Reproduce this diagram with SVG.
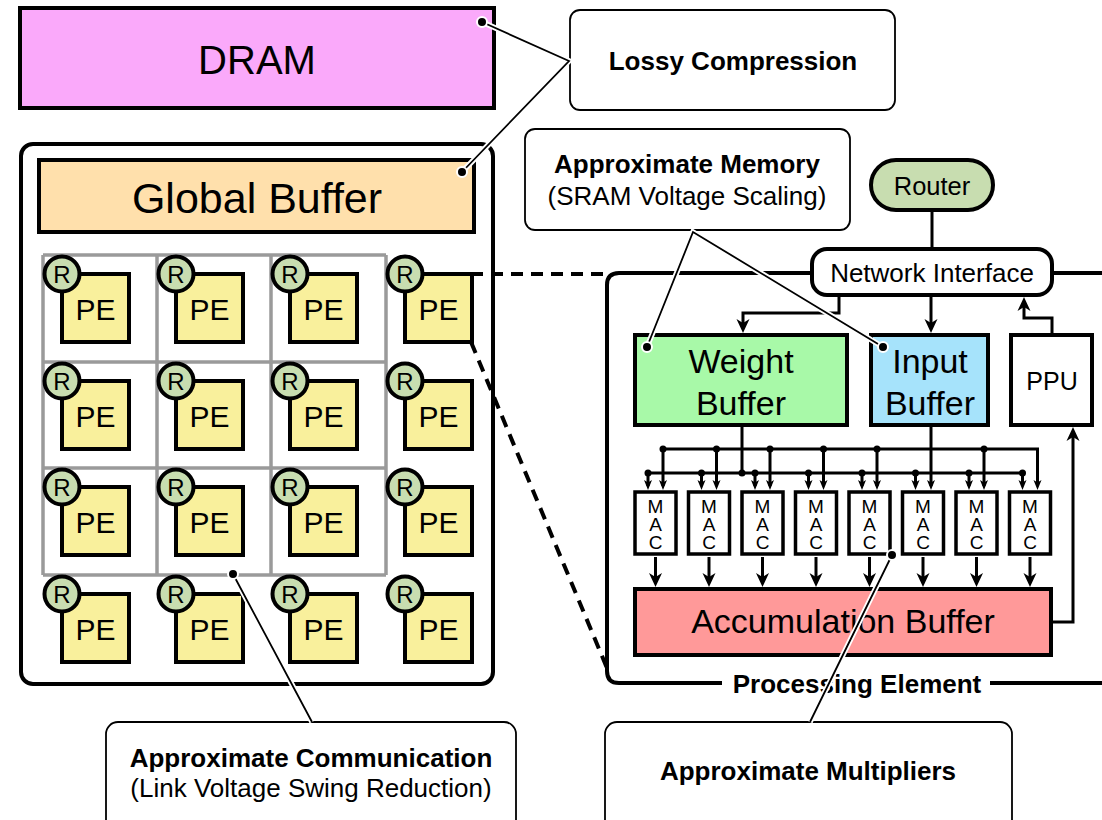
<svg xmlns="http://www.w3.org/2000/svg" width="1102" height="820" viewBox="0 0 1102 820">
<style>
 .t{font-family:"Liberation Sans",Arial,Helvetica,sans-serif;fill:#000;text-anchor:middle}
 .b{font-weight:bold}
 .v{writing-mode:vertical-rl;text-orientation:upright;letter-spacing:-3px}
 .blk{stroke:#000;stroke-width:4}
 .call{fill:#fff;stroke:#000;stroke-width:1.8}
 .grid{fill:none;stroke:#9a9a9a;stroke-width:3.5}
 .pe{fill:#f9f09c;stroke:#000;stroke-width:4}
 .r{fill:#c8ddb0;stroke:#000;stroke-width:4}
 .mac{fill:#fff;stroke:#000;stroke-width:3.5}
 .wire{fill:none;stroke:#000;stroke-width:3}
 .halo{fill:none;stroke:#fff;stroke-width:5.5}
 .lead{fill:none;stroke:#000;stroke-width:1.8}
 .dot{fill:#000;stroke:#fff;stroke-width:2}
 .jn{fill:#000}
 .dash{fill:none;stroke:#000;stroke-width:4;stroke-dasharray:12 8}
</style>
<defs>
 <marker id="arrow" markerUnits="userSpaceOnUse" orient="auto" refX="0" refY="0" markerWidth="20" markerHeight="20" overflow="visible">
  <path d="M5,0 L-9,-6.5 L-5,0 L-9,6.5 Z" fill="#000"/>
 </marker>
 <marker id="arrow-s" markerUnits="userSpaceOnUse" orient="auto" refX="0" refY="0" markerWidth="14" markerHeight="14" overflow="visible">
  <path d="M4,0 L-6,-4 L-3.5,0 L-6,4 Z" fill="#000"/>
 </marker>
</defs>

<!-- off-chip memory -->
<g id="dram">
 <rect x="20" y="8" width="474" height="100" fill="#faa9fa" class="blk"/>
 <text class="t" x="257" y="74" font-size="40">DRAM</text>
</g>

<!-- accelerator chip -->
<g id="chip">
 <rect x="21" y="144" width="472" height="540" rx="12" fill="#fff" class="blk"/>
</g>
<g id="global-buffer">
 <rect x="39" y="160" width="435" height="72" fill="#ffe0ac" class="blk"/>
 <text class="t" x="257" y="213" font-size="43">Global Buffer</text>
</g>

<!-- on-chip mesh links -->
<g id="mesh">
 <path class="grid" d="M43,255 H386 M43,362 H386 M43,468 H386 M43,575 H386 M43,255 V575 M157,255 V575 M271,255 V575 M386,255 V575"/>
</g>

<!-- PE array: each tile has a router at its corner -->
<g id="pe-0-0" transform="translate(62,274)"><rect class="pe" width="67" height="68"/><text class="t" x="33.5" y="46" font-size="30">PE</text><circle class="r" r="17.5"/><text class="t" y="9" font-size="24">R</text></g>
<g id="pe-1-0" transform="translate(176,274)"><rect class="pe" width="67" height="68"/><text class="t" x="33.5" y="46" font-size="30">PE</text><circle class="r" r="17.5"/><text class="t" y="9" font-size="24">R</text></g>
<g id="pe-2-0" transform="translate(290,274)"><rect class="pe" width="67" height="68"/><text class="t" x="33.5" y="46" font-size="30">PE</text><circle class="r" r="17.5"/><text class="t" y="9" font-size="24">R</text></g>
<g id="pe-3-0" transform="translate(405,274)"><rect class="pe" width="67" height="68"/><text class="t" x="33.5" y="46" font-size="30">PE</text><circle class="r" r="17.5"/><text class="t" y="9" font-size="24">R</text></g>
<g id="pe-0-1" transform="translate(62,381)"><rect class="pe" width="67" height="68"/><text class="t" x="33.5" y="46" font-size="30">PE</text><circle class="r" r="17.5"/><text class="t" y="9" font-size="24">R</text></g>
<g id="pe-1-1" transform="translate(176,381)"><rect class="pe" width="67" height="68"/><text class="t" x="33.5" y="46" font-size="30">PE</text><circle class="r" r="17.5"/><text class="t" y="9" font-size="24">R</text></g>
<g id="pe-2-1" transform="translate(290,381)"><rect class="pe" width="67" height="68"/><text class="t" x="33.5" y="46" font-size="30">PE</text><circle class="r" r="17.5"/><text class="t" y="9" font-size="24">R</text></g>
<g id="pe-3-1" transform="translate(405,381)"><rect class="pe" width="67" height="68"/><text class="t" x="33.5" y="46" font-size="30">PE</text><circle class="r" r="17.5"/><text class="t" y="9" font-size="24">R</text></g>
<g id="pe-0-2" transform="translate(62,487)"><rect class="pe" width="67" height="68"/><text class="t" x="33.5" y="46" font-size="30">PE</text><circle class="r" r="17.5"/><text class="t" y="9" font-size="24">R</text></g>
<g id="pe-1-2" transform="translate(176,487)"><rect class="pe" width="67" height="68"/><text class="t" x="33.5" y="46" font-size="30">PE</text><circle class="r" r="17.5"/><text class="t" y="9" font-size="24">R</text></g>
<g id="pe-2-2" transform="translate(290,487)"><rect class="pe" width="67" height="68"/><text class="t" x="33.5" y="46" font-size="30">PE</text><circle class="r" r="17.5"/><text class="t" y="9" font-size="24">R</text></g>
<g id="pe-3-2" transform="translate(405,487)"><rect class="pe" width="67" height="68"/><text class="t" x="33.5" y="46" font-size="30">PE</text><circle class="r" r="17.5"/><text class="t" y="9" font-size="24">R</text></g>
<g id="pe-0-3" transform="translate(62,594)"><rect class="pe" width="67" height="68"/><text class="t" x="33.5" y="46" font-size="30">PE</text><circle class="r" r="17.5"/><text class="t" y="9" font-size="24">R</text></g>
<g id="pe-1-3" transform="translate(176,594)"><rect class="pe" width="67" height="68"/><text class="t" x="33.5" y="46" font-size="30">PE</text><circle class="r" r="17.5"/><text class="t" y="9" font-size="24">R</text></g>
<g id="pe-2-3" transform="translate(290,594)"><rect class="pe" width="67" height="68"/><text class="t" x="33.5" y="46" font-size="30">PE</text><circle class="r" r="17.5"/><text class="t" y="9" font-size="24">R</text></g>
<g id="pe-3-3" transform="translate(405,594)"><rect class="pe" width="67" height="68"/><text class="t" x="33.5" y="46" font-size="30">PE</text><circle class="r" r="17.5"/><text class="t" y="9" font-size="24">R</text></g>

<!-- zoomed-in processing element -->
<g id="pe-detail-frame">
 <path d="M1110,273 H619 Q607,273 607,285 V671 Q607,683 619,683 H722 M990,683 H1110" fill="none" class="blk"/>
 <text class="t b" x="857" y="693" font-size="26">Processing Element</text>
</g>

<g id="connectors">
 <!-- zoom-out guides -->
 <path class="dash" d="M471,274 H607 M471,342 L607,668"/>
 <!-- router to network interface -->
 <path class="wire" d="M932,211 V248"/>
 <!-- network interface to buffers, PPU back to network interface -->
 <path class="wire" d="M931,297 V328" marker-end="url(#arrow)"/>
 <path class="wire" d="M839,297 V313 H743 V328" marker-end="url(#arrow)"/>
 <path class="wire" d="M1052,333 V318 H1024 V302" marker-end="url(#arrow)"/>
 <path class="wire" d="M1051,622 H1073 V432" marker-end="url(#arrow)"/>
 <!-- input buffer broadcast bus -->
 <path class="wire" d="M931,427 V486" marker-end="url(#arrow-s)"/>
 <path class="wire" d="M663,449 H1037.5 V486" marker-end="url(#arrow-s)"/>
 <path class="wire" d="M663,449 V486" marker-end="url(#arrow-s)"/>
 <path class="wire" d="M716.5,449 V486" marker-end="url(#arrow-s)"/>
 <path class="wire" d="M770,449 V486" marker-end="url(#arrow-s)"/>
 <path class="wire" d="M823.5,449 V486" marker-end="url(#arrow-s)"/>
 <path class="wire" d="M877,449 V486" marker-end="url(#arrow-s)"/>
 <path class="wire" d="M984,449 V486" marker-end="url(#arrow-s)"/>
 <circle class="jn" cx="663" cy="449" r="3.5"/>
 <circle class="jn" cx="716.5" cy="449" r="3.5"/>
 <circle class="jn" cx="770" cy="449" r="3.5"/>
 <circle class="jn" cx="823.5" cy="449" r="3.5"/>
 <circle class="jn" cx="877" cy="449" r="3.5"/>
 <circle class="jn" cx="984" cy="449" r="3.5"/>
 <!-- weight buffer broadcast bus -->
 <path class="wire" d="M742,427 V473 M648,473 H1022.5"/>
 <circle class="jn" cx="742" cy="473" r="3.5"/>
 <path class="wire" d="M648,473 V486" marker-end="url(#arrow-s)"/>
 <path class="wire" d="M701.5,473 V486" marker-end="url(#arrow-s)"/>
 <path class="wire" d="M755,473 V486" marker-end="url(#arrow-s)"/>
 <path class="wire" d="M808.5,473 V486" marker-end="url(#arrow-s)"/>
 <path class="wire" d="M862,473 V486" marker-end="url(#arrow-s)"/>
 <path class="wire" d="M915.5,473 V486" marker-end="url(#arrow-s)"/>
 <path class="wire" d="M969,473 V486" marker-end="url(#arrow-s)"/>
 <path class="wire" d="M1022.5,473 V486" marker-end="url(#arrow-s)"/>
 <circle class="jn" cx="648" cy="473" r="3.5"/>
 <circle class="jn" cx="701.5" cy="473" r="3.5"/>
 <circle class="jn" cx="755" cy="473" r="3.5"/>
 <circle class="jn" cx="808.5" cy="473" r="3.5"/>
 <circle class="jn" cx="862" cy="473" r="3.5"/>
 <circle class="jn" cx="915.5" cy="473" r="3.5"/>
 <circle class="jn" cx="969" cy="473" r="3.5"/>
 <circle class="jn" cx="1022.5" cy="473" r="3.5"/>
 <!-- MAC outputs into accumulation buffer -->
 <path class="wire" d="M655.5,557 V582" marker-end="url(#arrow)"/>
 <path class="wire" d="M709,557 V582" marker-end="url(#arrow)"/>
 <path class="wire" d="M762.5,557 V582" marker-end="url(#arrow)"/>
 <path class="wire" d="M816,557 V582" marker-end="url(#arrow)"/>
 <path class="wire" d="M869.5,557 V582" marker-end="url(#arrow)"/>
 <path class="wire" d="M923,557 V582" marker-end="url(#arrow)"/>
 <path class="wire" d="M976.5,557 V582" marker-end="url(#arrow)"/>
 <path class="wire" d="M1030,557 V582" marker-end="url(#arrow)"/>
</g>

<g id="router">
 <rect x="871" y="160" width="122" height="50" rx="25" fill="#c8ddb0" class="blk"/>
 <text class="t" x="932" y="195" font-size="25.5">Router</text>
</g>
<g id="network-interface">
 <rect x="812" y="249" width="240" height="46" rx="15" fill="#fff" class="blk"/>
 <text class="t" x="932" y="282" font-size="26">Network Interface</text>
</g>
<g id="weight-buffer">
 <rect x="635" y="335" width="212" height="90" fill="#a8f9a8" class="blk"/>
 <text class="t" x="741" y="373" font-size="34">Weight</text>
 <text class="t" x="741" y="415" font-size="34">Buffer</text>
</g>
<g id="input-buffer">
 <rect x="871" y="335" width="117" height="90" fill="#a6e3fb" class="blk"/>
 <text class="t" x="930" y="373" font-size="34">Input</text>
 <text class="t" x="930" y="415" font-size="34">Buffer</text>
</g>
<g id="ppu">
 <rect x="1011" y="335" width="81" height="90" fill="#fff" class="blk"/>
 <text class="t" x="1052" y="390" font-size="25">PPU</text>
</g>

<!-- MAC units: label set in an upright vertical column -->
<g id="mac-0" transform="translate(635,492)"><rect class="mac" width="41" height="62"/><text class="t v" x="20.5" y="31" font-size="19">MAC</text></g>
<g id="mac-1" transform="translate(688.5,492)"><rect class="mac" width="41" height="62"/><text class="t v" x="20.5" y="31" font-size="19">MAC</text></g>
<g id="mac-2" transform="translate(742,492)"><rect class="mac" width="41" height="62"/><text class="t v" x="20.5" y="31" font-size="19">MAC</text></g>
<g id="mac-3" transform="translate(795.5,492)"><rect class="mac" width="41" height="62"/><text class="t v" x="20.5" y="31" font-size="19">MAC</text></g>
<g id="mac-4" transform="translate(849,492)"><rect class="mac" width="41" height="62"/><text class="t v" x="20.5" y="31" font-size="19">MAC</text></g>
<g id="mac-5" transform="translate(902.5,492)"><rect class="mac" width="41" height="62"/><text class="t v" x="20.5" y="31" font-size="19">MAC</text></g>
<g id="mac-6" transform="translate(956,492)"><rect class="mac" width="41" height="62"/><text class="t v" x="20.5" y="31" font-size="19">MAC</text></g>
<g id="mac-7" transform="translate(1009.5,492)"><rect class="mac" width="41" height="62"/><text class="t v" x="20.5" y="31" font-size="19">MAC</text></g>

<g id="accumulation-buffer">
 <rect x="635" y="589" width="416" height="66" fill="#ff9999" class="blk"/>
 <text class="t" x="843" y="633" font-size="34">Accumulation Buffer</text>
</g>

<!-- annotation callouts -->
<g id="callout-lossy">
 <rect class="call" x="570" y="10" width="325" height="100" rx="10"/>
 <text class="t b" x="733" y="70" font-size="26">Lossy Compression</text>
</g>
<g id="callout-memory">
 <rect class="call" x="525" y="129" width="325" height="101" rx="10"/>
 <text class="t b" x="687" y="173" font-size="26">Approximate Memory</text>
 <text class="t" x="687" y="205" font-size="26">(SRAM Voltage Scaling)</text>
</g>
<g id="callout-communication">
 <rect class="call" x="106" y="722" width="410" height="110" rx="12"/>
 <text class="t b" x="311" y="767" font-size="26">Approximate Communication</text>
 <text class="t" x="311" y="797" font-size="26">(Link Voltage Swing Reduction)</text>
</g>
<g id="callout-multipliers">
 <rect class="call" x="605" y="722" width="407" height="110" rx="12"/>
 <text class="t b" x="808" y="780" font-size="26">Approximate Multipliers</text>
</g>

<g id="callout-leaders">
 <path class="halo" d="M482,22 L569,61 L462,172 M647,347 L693,232 L883,347 M233,574 L312,722 M892,555 L810,722"/>
 <path class="lead" d="M482,22 L569,61 L462,172 M647,347 L693,232 L883,347 M233,574 L312,722 M892,555 L810,722"/>
 <circle class="dot" cx="482" cy="22" r="5"/>
 <circle class="dot" cx="462" cy="172" r="5"/>
 <circle class="dot" cx="647" cy="347" r="5"/>
 <circle class="dot" cx="883" cy="347" r="5"/>
 <circle class="dot" cx="233" cy="574" r="5"/>
 <circle class="dot" cx="892" cy="555" r="5"/>
</g>
</svg>
